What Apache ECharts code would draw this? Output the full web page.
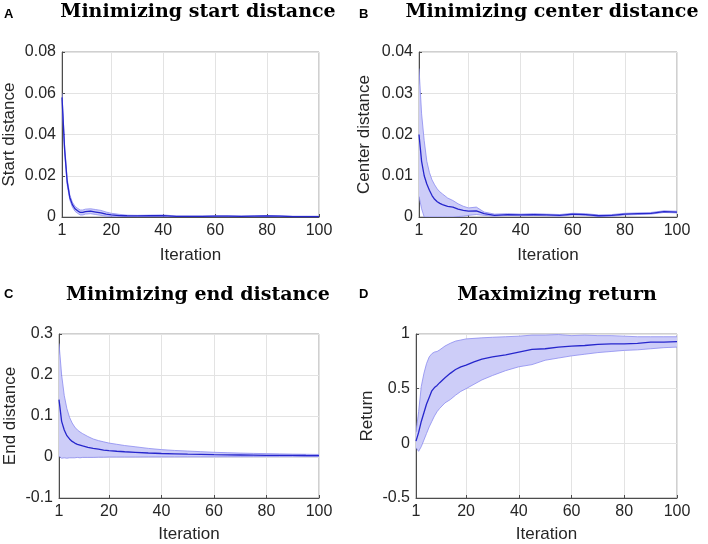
<!DOCTYPE html>
<html>
<head>
<meta charset="utf-8">
<script src="https://cdn.jsdelivr.net/npm/echarts@6/dist/echarts.min.js"></script>
<style>html,body{margin:0;padding:0;background:#fff}#c{width:708px;height:544px}</style>
</head>
<body>
<div id="c"></div>
<script>
// Iterations sampled (shared by all panels)
const iterations = [1,2,3,4,5,6,7,8,9,10,12,14,16,18,20,23,26,30,35,40,45,50,55,60,65,70,75,80,85,90,95,100];
const xTicks = [1,20,40,60,80,100];

// A: Minimizing start distance
const startMean  = [0.058,0.033,0.017,0.0095,0.0060,0.0040,0.0030,0.0022,0.0022,0.0026,0.0028,0.0024,0.0020,0.0014,0.0010,0.0007,0.0006,0.0005,0.0006,0.0007,0.0003,0.0003,0.0003,0.0004,0.0004,0.0003,0.0004,0.0005,0.0004,0.0002,0.0002,0.0002];
const startUpper = [0.060,0.0348,0.0185,0.0107,0.0072,0.0052,0.0042,0.0034,0.0034,0.0038,0.0040,0.0036,0.0032,0.0024,0.0018,0.0013,0.0009,0.0008,0.0009,0.0010,0.0005,0.0005,0.0005,0.0006,0.0006,0.0005,0.0006,0.0007,0.0006,0.0004,0.0004,0.0004];
const startLower = [0.056,0.0312,0.0155,0.0083,0.0048,0.0028,0.0018,0.0010,0.0010,0.0014,0.0016,0.0012,0.0008,0.0004,0.0002,0.0001,0.0003,0.0002,0.0003,0.0004,0.0001,0.0001,0.0001,0.0002,0.0002,0.0001,0.0002,0.0003,0.0002,0.0000,0.0000,0.0000];

// B: Minimizing center distance
const centerMean  = [0.020,0.0135,0.0100,0.0080,0.0065,0.0052,0.0043,0.0037,0.0033,0.0030,0.0026,0.0024,0.0019,0.0016,0.0014,0.0015,0.0008,0.0004,0.0006,0.0005,0.0006,0.0005,0.0004,0.0007,0.0006,0.0003,0.0004,0.0007,0.0008,0.0009,0.0013,0.0012];
const centerUpper = [0.036,0.025,0.0185,0.0135,0.0108,0.0090,0.0078,0.0068,0.0061,0.0056,0.0046,0.0040,0.0032,0.0026,0.0022,0.0024,0.0012,0.0007,0.0008,0.0007,0.0008,0.0007,0.0006,0.0009,0.0008,0.0005,0.0006,0.0009,0.0010,0.0011,0.0015,0.0014];
const centerLower = [0.005,0.002,0.0,0.0,0.0,0.0,0.0,0.0,0.0,0.0,0.0,0.0,0.0001,0.0002,0.0004,0.0006,0.0004,0.0002,0.0004,0.0003,0.0004,0.0003,0.0002,0.0005,0.0004,0.0001,0.0002,0.0005,0.0006,0.0007,0.0011,0.0010];

// C: Minimizing end distance
const endMean  = [0.14,0.087,0.066,0.052,0.044,0.038,0.034,0.031,0.029,0.027,0.0235,0.021,0.019,0.017,0.0155,0.014,0.0128,0.0115,0.0098,0.0085,0.0078,0.0070,0.0064,0.0058,0.0053,0.0049,0.0045,0.0042,0.0040,0.0038,0.0036,0.0035];
const endUpper = [0.277,0.20,0.150,0.118,0.097,0.083,0.073,0.066,0.061,0.057,0.050,0.044,0.040,0.037,0.034,0.031,0.028,0.025,0.021,0.018,0.016,0.0145,0.013,0.0115,0.0105,0.0095,0.0088,0.0082,0.0076,0.0070,0.0066,0.0062];
const endLower = [0.002,-0.003,-0.002,-0.003,-0.002,-0.002,-0.002,-0.001,-0.002,-0.001,-0.001,-0.001,-0.0005,-0.0005,0.0,0.0,0.0,0.0,0.0002,0.0003,0.0004,0.0005,0.0005,0.0005,0.0007,0.0008,0.0009,0.0010,0.0010,0.0010,0.0010,0.0010];

// D: Maximizing return
const retMean  = [0.02,0.10,0.20,0.28,0.36,0.42,0.48,0.51,0.53,0.555,0.60,0.64,0.675,0.70,0.715,0.745,0.77,0.79,0.81,0.835,0.86,0.865,0.88,0.89,0.895,0.905,0.91,0.91,0.915,0.925,0.925,0.93];
const retUpper = [0.10,0.29,0.52,0.64,0.73,0.79,0.82,0.835,0.84,0.855,0.89,0.915,0.935,0.945,0.955,0.96,0.965,0.97,0.975,0.98,0.99,0.99,0.995,0.985,0.99,0.985,0.985,0.98,0.975,0.975,0.975,0.975];
const retLower = [-0.04,-0.073,-0.03,0.03,0.09,0.15,0.20,0.25,0.29,0.32,0.37,0.40,0.44,0.475,0.50,0.54,0.58,0.62,0.665,0.70,0.72,0.76,0.78,0.80,0.815,0.83,0.84,0.85,0.855,0.865,0.875,0.88];

const titles = ['Minimizing start distance','Minimizing center distance','Minimizing end distance','Maximizing return'];
const panelLetters = ['A','B','C','D'];
const yNames = ['Start distance','Center distance','End distance','Return'];
const yRanges = [[0,0.08,0.02],[0,0.04,0.01],[-0.1,0.3,0.1],[-0.5,1,0.5]];
const means = [startMean, centerMean, endMean, retMean];
const uppers = [startUpper, centerUpper, endUpper, retUpper];
const lowers = [startLower, centerLower, endLower, retLower];

const grids = [
  {left:62, right:389, top:52, bottom:327},
  {left:419, right:31, top:52, bottom:327},
  {left:59, right:389, top:334, bottom:45},
  {left:416, right:31, top:334, bottom:45}
];
const titlePos = [[198,3],[552,3],[198,286],[557,286]];
const letterPos = [[4,8],[359,8],[4,288],[359,288]];
const yNameGap = [44,46,40,40];
const xNameGap = [30,30,28,28];

const FONT = 'Liberation Sans';
const MEAN_C = '#2626cc';
const EDGE_C = '#8c8cf0';
const FILL_C = '#cdcdf8';

function bandRenderer(data){
  return function(params, api){
    if (params.dataIndex !== 0) return null;
    const up = [], lo = [];
    for (let k=0;k<data.length;k++){
      up.push(api.coord([data[k][0], data[k][2]]));
      lo.push(api.coord([data[k][0], data[k][1]]));
    }
    const poly = up.concat(lo.slice().reverse());
    return {type:'group', children:[
      {type:'polygon', shape:{points:poly}, style:{fill:FILL_C}},
      {type:'polyline', shape:{points:up}, style:{stroke:EDGE_C, lineWidth:0.8, fill:null}},
      {type:'polyline', shape:{points:lo}, style:{stroke:EDGE_C, lineWidth:0.8, fill:null}}
    ]};
  };
}

const option = {
  animation:false,
  backgroundColor:'#fff',
  title:[],
  grid:[], xAxis:[], yAxis:[], series:[]
};
for (let i=0;i<4;i++){
  option.title.push({text:titles[i], left:titlePos[i][0], top:titlePos[i][1], textAlign:'center', padding:0,
    textStyle:{fontFamily:'DejaVu Serif', fontWeight:'bold', fontSize:19, color:'#000'}});
  option.title.push({text:panelLetters[i], left:letterPos[i][0], top:letterPos[i][1], padding:0,
    textStyle:{fontFamily:FONT, fontWeight:'bold', fontSize:13, color:'#000'}});
  option.grid.push(Object.assign({show:true, borderColor:'#a0a0a0', borderWidth:1, backgroundColor:'#fff'}, grids[i]));
  option.xAxis.push({type:'value', gridIndex:i, min:1, max:100,
    name:'Iteration', nameLocation:'middle', nameGap:xNameGap[i],
    nameTextStyle:{fontFamily:FONT, fontSize:17, color:'#262626'},
    axisLine:{show:true, onZero:false, lineStyle:{color:'#4d4d4d', width:1}},
    axisTick:{show:true, inside:true, length:3, customValues:xTicks, lineStyle:{color:'#4d4d4d'}},
    axisLabel:{customValues:xTicks, fontFamily:FONT, fontSize:16, color:'#262626', margin:6},
    splitLine:{show:true, lineStyle:{color:'#e3e3e3'}}
  });
  option.yAxis.push({type:'value', gridIndex:i, min:yRanges[i][0], max:yRanges[i][1], interval:yRanges[i][2],
    name:yNames[i], nameLocation:'middle', nameGap:yNameGap[i],
    nameTextStyle:{fontFamily:FONT, fontSize:17, color:'#262626'},
    axisLine:{show:true, onZero:false, lineStyle:{color:'#4d4d4d', width:1}},
    axisTick:{show:true, inside:true, length:3, lineStyle:{color:'#4d4d4d'}},
    axisLabel:{fontFamily:FONT, fontSize:16, color:'#262626', margin:6},
    splitLine:{show:true, lineStyle:{color:'#e3e3e3'}}
  });
  const bandData = iterations.map((x,k)=>[x, lowers[i][k], uppers[i][k]]);
  const meanData = iterations.map((x,k)=>[x, means[i][k]]);
  option.series.push({type:'custom', xAxisIndex:i, yAxisIndex:i, data:bandData,
    encode:{x:0, y:[1,2]}, renderItem:bandRenderer(bandData), clip:true, silent:true, z:2});
  option.series.push({type:'line', xAxisIndex:i, yAxisIndex:i, data:meanData, symbol:'none',
    lineStyle:{color:MEAN_C, width:1.3}, z:5});
}
const chart = echarts.init(document.getElementById('c'), null, {renderer:'canvas'});
chart.setOption(option);
</script>
</body>
</html>
